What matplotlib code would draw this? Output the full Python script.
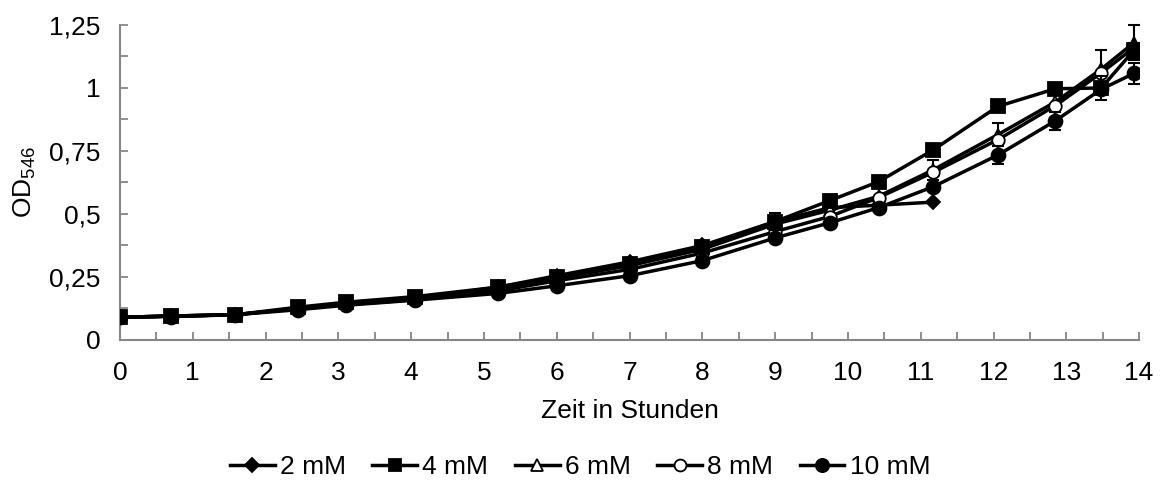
import numpy as np
import matplotlib
matplotlib.use('Agg')
import matplotlib.pyplot as plt

plt.rcParams['font.family'] = ['Liberation Sans', 'DejaVu Sans']
plt.rcParams['font.size'] = 19
plt.rcParams['mathtext.fontset'] = 'custom'
plt.rcParams['mathtext.rm'] = 'Liberation Sans'

# Zeitpunkte (Stunden)
zeit = [0, 0.70, 1.58, 2.44, 3.11, 4.05, 5.20, 6.0, 7.0, 8.0, 9.0, 9.75,
        10.42, 11.17, 12.06, 12.85, 13.48, 13.93]

# OD546 je Konzentration
od_2mM = [0.09, 0.095, 0.10, 0.125, 0.145, 0.165, 0.21, 0.255, 0.31, 0.375,
          0.47, 0.525, 0.535, 0.547]
od_4mM = [0.09, 0.095, 0.10, 0.13, 0.15, 0.172, 0.21, 0.25, 0.30, 0.37,
          0.47, 0.553, 0.628, 0.754, 0.927, 0.997, 1.0, 1.15]
od_6mM = [0.09, 0.095, 0.10, 0.125, 0.145, 0.165, 0.205, 0.245, 0.295, 0.36,
          0.46, 0.515, 0.57, 0.675, 0.815, 0.945, 1.075, 1.18]
od_8mM = [0.09, 0.095, 0.10, 0.125, 0.14, 0.16, 0.195, 0.235, 0.28, 0.345,
          0.43, 0.49, 0.565, 0.665, 0.795, 0.93, 1.06, 1.16]
od_10mM = [0.09, 0.093, 0.10, 0.12, 0.138, 0.158, 0.185, 0.215, 0.255, 0.315,
           0.405, 0.465, 0.525, 0.608, 0.734, 0.87, 0.995, 1.058]

# Standardabweichungen (nur sichtbare)
err_2mM = [0]*14
err_4mM = [0]*10 + [0.035] + [0]*5 + [0.048, 0.03]
err_6mM = [0]*13 + [0.04, 0.045, 0, 0.075, 0.07]
err_8mM = [0]*18
err_10mM = [0]*14 + [0.035, 0.035, 0, 0.042]

labels = ['2 mM', '4 mM', '6 mM', '8 mM', '10 mM']
werte = [od_2mM, od_4mM, od_6mM, od_8mM, od_10mM]
fehler = [err_2mM, err_4mM, err_6mM, err_8mM, err_10mM]
marker = ['D', 's', '^', 'o', 'o']
msize = [7.5, 9.5, 9, 9, 10]
faces = ['black', 'black', 'white', 'white', 'black']
ebene = [3, 9, 4, 5, 6]

y_ticks = [0, 0.25, 0.5, 0.75, 1, 1.25]
y_ticklabels = ['0', '0,25', '0,5', '0,75', '1', '1,25']

grau = '#868686'

fig = plt.figure(figsize=(11.6, 4.88), dpi=100)
ax = fig.add_axes([0.1034, 0.3033, 0.8786, 0.6455])

for i in range(len(labels)):
    n = len(werte[i])
    x = np.array(zeit[:n])
    y = np.array(werte[i])
    e = np.array(fehler[i])
    ax.plot(x, y, color='black', lw=2.5, marker=marker[i], ms=msize[i],
            mfc=faces[i], mec='black', mew=1.3, label=labels[i], zorder=ebene[i])
    m = e > 0
    if m.any():
        ax.errorbar(x[m], y[m], yerr=e[m], fmt='none', ecolor='black',
                    elinewidth=1.5, capsize=4, capthick=1.5, zorder=ebene[i],
                    clip_on=False)

ax.set_xlim(0, 14)
ax.set_ylim(0, 1.25)
ax.set_xticks(range(15))
ax.set_xticks(np.arange(0, 14.01, 0.5), minor=True)
ax.set_yticks(y_ticks)
ax.set_yticklabels(y_ticklabels)
ax.set_yticks(np.arange(0, 1.251, 0.125), minor=True)

for s in ['top', 'right']:
    ax.spines[s].set_visible(False)
for s in ['left', 'bottom']:
    ax.spines[s].set_color(grau)
    ax.spines[s].set_linewidth(1.5)

ax.tick_params(which='both', direction='in', color=grau, width=1.3, length=6)
ax.tick_params(axis='x', which='major', pad=15)
ax.tick_params(axis='y', which='major', pad=14)

ax.set_xlabel('Zeit in Stunden', labelpad=10)
ax.set_ylabel(r'OD$_{546}$', labelpad=8)

ax.legend(loc='center', bbox_to_anchor=(0.5, 0.043), bbox_transform=fig.transFigure,
          ncol=5, frameon=False, handlelength=1.7, handletextpad=0.2,
          columnspacing=1.0, markerscale=0.95)

fig.savefig('out.png', dpi=100)
